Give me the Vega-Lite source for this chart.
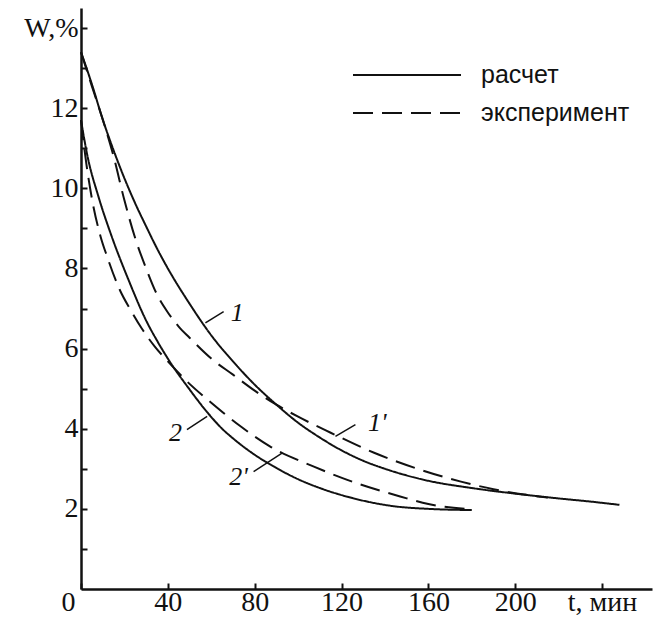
{
  "$schema": "https://vega.github.io/schema/vega-lite/v6.json",
  "width": 571,
  "height": 581,
  "autosize": {"type": "none"},
  "padding": {"left": 81, "top": 8, "right": 5, "bottom": 32},
  "background": "white",
  "config": {
    "view": {"stroke": null},
    "axis": {"grid": false, "domainColor": "#111", "domainWidth": 2.5, "tickColor": "#111", "tickWidth": 2, "labelColor": "#111", "labelFont": "Liberation Serif", "labelFontSize": 28, "titleFontSize": 0}
  },
  "datasets": {
    "curves": [
      {"curve": "1", "type": "расчет", "t": 0, "W": 13.4},
      {"curve": "1", "type": "расчет", "t": 5, "W": 12.6},
      {"curve": "1", "type": "расчет", "t": 10, "W": 11.72},
      {"curve": "1", "type": "расчет", "t": 15, "W": 10.95},
      {"curve": "1", "type": "расчет", "t": 20, "W": 10.25},
      {"curve": "1", "type": "расчет", "t": 25, "W": 9.62},
      {"curve": "1", "type": "расчет", "t": 30, "W": 9.05},
      {"curve": "1", "type": "расчет", "t": 35, "W": 8.5},
      {"curve": "1", "type": "расчет", "t": 40, "W": 8.0},
      {"curve": "1", "type": "расчет", "t": 50, "W": 7.12},
      {"curve": "1", "type": "расчет", "t": 60, "W": 6.33},
      {"curve": "1", "type": "расчет", "t": 70, "W": 5.68},
      {"curve": "1", "type": "расчет", "t": 80, "W": 5.1},
      {"curve": "1", "type": "расчет", "t": 90, "W": 4.6},
      {"curve": "1", "type": "расчет", "t": 100, "W": 4.15},
      {"curve": "1", "type": "расчет", "t": 110, "W": 3.78},
      {"curve": "1", "type": "расчет", "t": 120, "W": 3.46},
      {"curve": "1", "type": "расчет", "t": 130, "W": 3.2},
      {"curve": "1", "type": "расчет", "t": 140, "W": 3.0},
      {"curve": "1", "type": "расчет", "t": 160, "W": 2.7},
      {"curve": "1", "type": "расчет", "t": 180, "W": 2.52},
      {"curve": "1", "type": "расчет", "t": 200, "W": 2.38},
      {"curve": "1", "type": "расчет", "t": 220, "W": 2.26},
      {"curve": "1", "type": "расчет", "t": 235, "W": 2.18},
      {"curve": "1", "type": "расчет", "t": 248, "W": 2.1},
      {"curve": "1'", "type": "эксперимент", "t": 0, "W": 13.4},
      {"curve": "1'", "type": "эксперимент", "t": 5, "W": 12.55},
      {"curve": "1'", "type": "эксперимент", "t": 10, "W": 11.72},
      {"curve": "1'", "type": "эксперимент", "t": 15, "W": 10.8},
      {"curve": "1'", "type": "эксперимент", "t": 20, "W": 9.7},
      {"curve": "1'", "type": "эксперимент", "t": 25, "W": 8.75},
      {"curve": "1'", "type": "эксперимент", "t": 30, "W": 8.0},
      {"curve": "1'", "type": "эксперимент", "t": 35, "W": 7.35},
      {"curve": "1'", "type": "эксперимент", "t": 40, "W": 6.9},
      {"curve": "1'", "type": "эксперимент", "t": 45, "W": 6.55},
      {"curve": "1'", "type": "эксперимент", "t": 50, "W": 6.27},
      {"curve": "1'", "type": "эксперимент", "t": 60, "W": 5.75},
      {"curve": "1'", "type": "эксперимент", "t": 70, "W": 5.35},
      {"curve": "1'", "type": "эксперимент", "t": 80, "W": 4.95},
      {"curve": "1'", "type": "эксперимент", "t": 90, "W": 4.6},
      {"curve": "1'", "type": "эксперимент", "t": 100, "W": 4.3},
      {"curve": "1'", "type": "эксперимент", "t": 115, "W": 3.9},
      {"curve": "1'", "type": "эксперимент", "t": 135, "W": 3.4},
      {"curve": "1'", "type": "эксперимент", "t": 155, "W": 3.0},
      {"curve": "1'", "type": "эксперимент", "t": 175, "W": 2.68},
      {"curve": "1'", "type": "эксперимент", "t": 190, "W": 2.49},
      {"curve": "1'", "type": "эксперимент", "t": 205, "W": 2.35},
      {"curve": "1'", "type": "эксперимент", "t": 215, "W": 2.28},
      {"curve": "2", "type": "расчет", "t": 0, "W": 11.7},
      {"curve": "2", "type": "расчет", "t": 3, "W": 10.8},
      {"curve": "2", "type": "расчет", "t": 8, "W": 9.8},
      {"curve": "2", "type": "расчет", "t": 14, "W": 8.82},
      {"curve": "2", "type": "расчет", "t": 22, "W": 7.7},
      {"curve": "2", "type": "расчет", "t": 30, "W": 6.7},
      {"curve": "2", "type": "расчет", "t": 35, "W": 6.2},
      {"curve": "2", "type": "расчет", "t": 40, "W": 5.75},
      {"curve": "2", "type": "расчет", "t": 50, "W": 4.98},
      {"curve": "2", "type": "расчет", "t": 58, "W": 4.42},
      {"curve": "2", "type": "расчет", "t": 65, "W": 4.0},
      {"curve": "2", "type": "расчет", "t": 70, "W": 3.76},
      {"curve": "2", "type": "расчет", "t": 80, "W": 3.35},
      {"curve": "2", "type": "расчет", "t": 90, "W": 3.02},
      {"curve": "2", "type": "расчет", "t": 100, "W": 2.74},
      {"curve": "2", "type": "расчет", "t": 110, "W": 2.52},
      {"curve": "2", "type": "расчет", "t": 125, "W": 2.27},
      {"curve": "2", "type": "расчет", "t": 145, "W": 2.06},
      {"curve": "2", "type": "расчет", "t": 160, "W": 2.0},
      {"curve": "2", "type": "расчет", "t": 180, "W": 1.97},
      {"curve": "2'", "type": "эксперимент", "t": 0, "W": 11.7},
      {"curve": "2'", "type": "эксперимент", "t": 2.5, "W": 10.6},
      {"curve": "2'", "type": "эксперимент", "t": 5, "W": 9.75},
      {"curve": "2'", "type": "эксперимент", "t": 9, "W": 8.8},
      {"curve": "2'", "type": "эксперимент", "t": 12, "W": 8.3},
      {"curve": "2'", "type": "эксперимент", "t": 18, "W": 7.45},
      {"curve": "2'", "type": "эксперимент", "t": 23, "W": 6.95},
      {"curve": "2'", "type": "эксперимент", "t": 28, "W": 6.5},
      {"curve": "2'", "type": "эксперимент", "t": 34, "W": 6.05},
      {"curve": "2'", "type": "эксперимент", "t": 40, "W": 5.68},
      {"curve": "2'", "type": "эксперимент", "t": 50, "W": 5.12},
      {"curve": "2'", "type": "эксперимент", "t": 60, "W": 4.65},
      {"curve": "2'", "type": "эксперимент", "t": 73, "W": 4.08},
      {"curve": "2'", "type": "эксперимент", "t": 87, "W": 3.56},
      {"curve": "2'", "type": "эксперимент", "t": 107, "W": 3.06},
      {"curve": "2'", "type": "эксперимент", "t": 127, "W": 2.64},
      {"curve": "2'", "type": "эксперимент", "t": 147, "W": 2.31},
      {"curve": "2'", "type": "эксперимент", "t": 160, "W": 2.12},
      {"curve": "2'", "type": "эксперимент", "t": 180, "W": 1.99}
    ],
    "labels": [
      {"label": "1", "t": 72, "W": 6.9, "t1": 57.3, "W1": 6.64, "t2": 65.7, "W2": 6.92},
      {"label": "1'", "t": 136.5, "W": 4.15, "t1": 117.2, "W1": 3.81, "t2": 126.4, "W2": 4.1},
      {"label": "2", "t": 43.5, "W": 3.9, "t1": 48.8, "W1": 3.98, "t2": 58.1, "W2": 4.31},
      {"label": "2'", "t": 72.6, "W": 2.8, "t1": 79.5, "W1": 2.93, "t2": 92.6, "W2": 3.39}
    ]
  },
  "layer": [
    {
      "data": {"name": "curves"},
      "mark": {"type": "line", "interpolate": "monotone", "strokeWidth": 2, "color": "#111"},
      "encoding": {
        "x": {"field": "t", "type": "quantitative", "scale": {"domain": [0, 263], "nice": false, "zero": false},
          "axis": {"title": null, "values": [0, 40, 80, 120, 160, 200, 240], "tickSize": -6, "labelPadding": 5, "labelOverlap": false, "labelBound": false, "labelFlush": false,
            "labelExpr": "datum.value == 240 ? 't, мин' : datum.label",
            "labelOffset": {"condition": {"test": "datum.value == 0", "value": -13}, "value": 0}}},
        "y": {"field": "W", "type": "quantitative", "scale": {"domain": [0, 14.5], "nice": false, "zero": false},
          "axis": {"title": null, "values": [1, 2, 3, 4, 5, 6, 7, 8, 9, 10, 11, 12, 13, 14], "tickSize": -6, "labelPadding": 9, "labelOverlap": false, "labelBound": false, "labelFlush": false,
            "labelExpr": "datum.value == 14 ? 'W,%' : (datum.value % 2 == 0 ? datum.label : '')"}},
        "detail": {"field": "curve"},
        "strokeDash": {"field": "type", "type": "nominal",
          "scale": {"domain": ["расчет", "эксперимент"], "range": [[1, 0], [20, 9]]},
          "legend": {"title": null, "orient": "none", "legendX": 271, "legendY": 48, "symbolType": "stroke", "symbolSize": 11664, "symbolStrokeWidth": 2, "symbolStrokeColor": "#111", "clipHeight": 38, "rowPadding": 0, "labelOffset": 19, "labelFont": "Liberation Sans", "labelFontSize": 25, "labelColor": "#111", "labelLimit": 300}}
      }
    },
    {
      "data": {"name": "labels"},
      "mark": {"type": "rule", "strokeWidth": 1.5, "color": "#111"},
      "encoding": {
        "x": {"field": "t1", "type": "quantitative"},
        "y": {"field": "W1", "type": "quantitative"},
        "x2": {"field": "t2"},
        "y2": {"field": "W2"}
      }
    },
    {
      "data": {"name": "labels"},
      "mark": {"type": "text", "font": "Liberation Serif", "fontStyle": "italic", "fontSize": 26, "color": "#111", "align": "center", "baseline": "middle"},
      "encoding": {
        "x": {"field": "t", "type": "quantitative"},
        "y": {"field": "W", "type": "quantitative"},
        "text": {"field": "label"}
      }
    }
  ]
}
